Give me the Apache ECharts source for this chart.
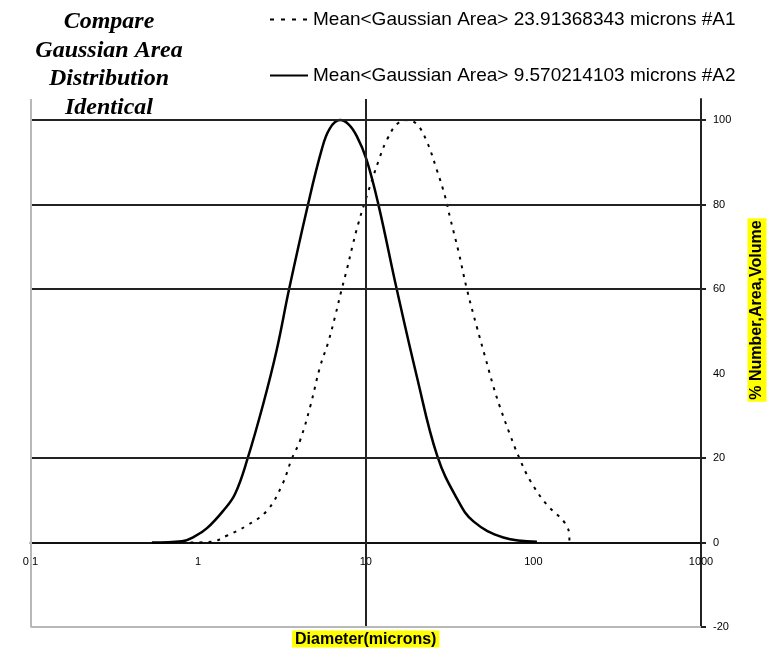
<!DOCTYPE html>
<html>
<head>
<meta charset="utf-8">
<script src="https://cdn.jsdelivr.net/npm/echarts@6/dist/echarts.min.js"></script>
<style>
  html, body { margin: 0; padding: 0; background: #fff; }
  #ec { width: 770px; height: 657px; }
</style>
</head>
<body>
<div id="ec"></div>
<script>
  // diameter (microns) and % values
  const a1X = [0.90, 1.21, 1.48, 1.95, 2.57, 3.16, 3.62, 4.06, 4.65, 5.34, 5.98, 6.56, 7.19, 7.70, 8.43, 9.03, 9.77, 12.2, 13.4, 15.3,
               17.6, 20.2, 23.1, 26.5, 29.7, 31.8, 35.7, 40.1, 46.0, 51.5, 57.7, 63.3, 72.6, 81.4, 95.6, 120, 155, 164, 164]
  const a1Y = [0, 0.2, 1.6, 4, 7.5, 13.5, 19.8, 24.2, 32, 41.6, 47.5, 53.5, 60, 64.5, 71, 75.5, 80, 91.5, 95.4, 99,
               100, 99, 95, 88.3, 82, 77, 69, 60, 51, 44, 37, 32, 25.5, 20.5, 14.7, 9, 4.5, 1.2, 0]
  const a2X = [0.53, 0.80, 0.96, 1.13, 1.41, 1.66, 1.97, 2.45, 2.94, 3.49, 4.45, 5.46, 6.1, 7.02, 7.9, 8.84, 10.1, 11.9, 15.3, 20.2, 26.7, 34.9, 43.9, 66.2, 105]
  const a2Y = [0, 0.3, 1.5, 3.4, 7.5, 11.5, 19.8, 32.9, 45.5, 60, 78.8, 93, 98, 100, 99, 96.2, 90.7, 80, 60, 39.2, 20.5, 10.5, 5, 1.2, 0.2]

  const a1Name = 'Mean<Gaussian Area> 23.91368343 microns #A1'
  const a2Name = 'Mean<Gaussian Area> 9.570214103 microns #A2'

  const yTicks = [-20, 0, 20, 40, 60, 80, 100]
  const gridY = [20, 60, 80, 100]   // no line at 40 in the original

  const pairs = (xs, ys) => xs.map((x, i) => [x, ys[i]])

  const ec = echarts.init(document.getElementById('ec'))
  ec.setOption({
    animation: false,
    title: {
      text: 'Compare\nGaussian Area\nDistribution\nIdentical',
      left: 104,
      top: 3,
      textAlign: 'center',
      textStyle: {
        fontFamily: 'Liberation Serif',
        fontStyle: 'italic',
        fontWeight: 'bold',
        fontSize: 24,
        lineHeight: 28.5,
        color: '#000'
      }
    },
    legend: {
      orient: 'vertical',
      left: 264,
      top: 5,
      itemWidth: 38,
      itemHeight: 14,
      itemGap: 37,
      itemStyle: { opacity: 0 },
      textStyle: {
        fontFamily: 'Liberation Sans',
        fontSize: 19,
        color: '#000'
      },
      data: [
        { name: a1Name, lineStyle: { type: [4, 7] } },
        { name: a2Name }
      ]
    },
    grid: {
      left: 30.5,
      right: 69,
      top: 99,
      bottom: 30,
      outerBoundsMode: 'none'
    },
    xAxis: {
      type: 'log',
      logBase: 10,
      min: 0.1,
      max: 1000,
      offset: -84.5,
      name: 'Diameter(microns)',
      nameLocation: 'middle',
      nameGap: 88,
      nameTextStyle: {
        fontFamily: 'Liberation Sans',
        fontWeight: 'bold',
        fontSize: 16,
        color: '#000',
        backgroundColor: '#ffff00',
        padding: [1, 3, 0, 3]
      },
      axisLine: {
        onZero: false,
        lineStyle: { color: '#111', width: 2 }
      },
      axisTick: { show: false },
      axisLabel: {
        margin: 14,
        fontFamily: 'Liberation Sans',
        fontSize: 11,
        color: '#000',
        formatter: v => String(v)
      },
      splitLine: { show: false }
    },
    yAxis: {
      type: 'value',
      position: 'right',
      min: -20,
      max: 105,
      interval: 20,
      axisLine: {
        show: true,
        lineStyle: { color: '#222', width: 2 }
      },
      axisTick: {
        show: true,
        length: 5,
        customValues: [-20, 0, 20, 60, 80, 100],
        lineStyle: { color: '#222', width: 2 }
      },
      axisLabel: {
        margin: 12,
        customValues: yTicks,
        fontFamily: 'Liberation Sans',
        fontSize: 11,
        color: '#000'
      },
      splitLine: { show: false }
    },
    graphic: [{
      type: 'text',
      x: 757,
      y: 310,
      rotation: Math.PI / 2,
      style: {
        text: '% Number,Area,Volume',
        font: 'bold 16px "Liberation Sans"',
        fill: '#000',
        align: 'center',
        verticalAlign: 'middle',
        backgroundColor: '#ffff00',
        padding: [2, 2, 1, 2]
      }
    }],
    series: [{
      name: a1Name,
      type: 'line',
      data: pairs(a1X, a1Y),
      symbol: 'none',
      smooth: 0.4,
      z: 3,
      lineStyle: { color: '#000', width: 2, type: [3, 6] },
      itemStyle: { color: '#000' },
      markLine: {
        silent: true,
        symbol: 'none',
        label: { show: false },
        animation: false,
        lineStyle: { type: 'solid', color: '#222', width: 2 },
        data: gridY.map(v => ({ yAxis: v }))
          .concat([{ xAxis: 10 }])
          .concat([
            { yAxis: -20, lineStyle: { color: '#b8b8b8', width: 2 } },
            { xAxis: 0.1, lineStyle: { color: '#b8b8b8', width: 2 } }
          ])
      }
    }, {
      name: a2Name,
      type: 'line',
      data: pairs(a2X, a2Y),
      symbol: 'none',
      smooth: 0.4,
      z: 4,
      lineStyle: { color: '#000', width: 2.5, type: 'solid' },
      itemStyle: { color: '#000' }
    }]
  })
</script>
</body>
</html>
